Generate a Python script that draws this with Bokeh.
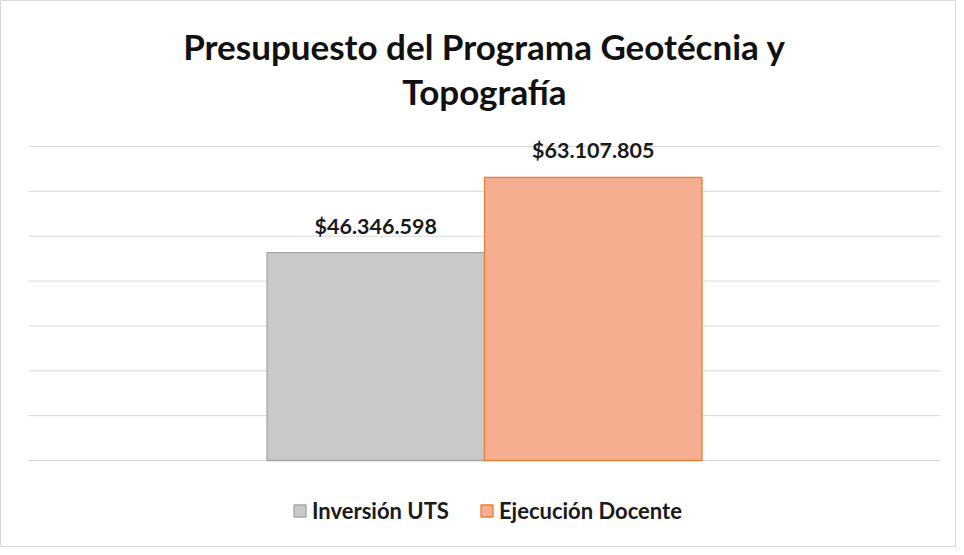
from bokeh.plotting import figure
from bokeh.models import ColumnDataSource, Range1d, Legend, LegendItem, Label
from bokeh.embed import file_html
from bokeh.resources import INLINE
from bokeh.core.properties import value

# ---------------- data ----------------
title_lines = ["Presupuesto del Programa Geotécnia y", "Topografía"]
series = ["Inversión UTS", "Ejecución Docente"]
amounts = [46346598, 63107805]
grid_values = [0, 10_000_000, 20_000_000, 30_000_000, 40_000_000,
               50_000_000, 60_000_000, 70_000_000]
offsets = [-0.5, 0.5]  # dodge positions of the two series inside the single category

fill_colors = ["#c9c9c9", "#f5ae8f"]
line_colors = ["#a6a6a6", "#ed7d31"]

# ---------------- layout geometry ----------------
W, H = 956, 547
bar_px = 217.5            # pixel width of one bar (1 data unit)
center_px = 484           # group centre, px from frame left
base_px = 460             # baseline, px from frame top
top_grid_px = 146         # top gridline, px from frame top
half_plot_px = 456        # half-width of the plot area (gridline extent)

ppu = (base_px - top_grid_px) / grid_values[-1]
y_start = -(H - base_px) / ppu
y_end = base_px / ppu
x_start = -center_px / bar_px
x_end = (W - center_px) / bar_px
gx = half_plot_px / bar_px

p = figure(width=W, height=H, output_backend="svg", toolbar_location=None,
           x_range=Range1d(x_start, x_end), y_range=Range1d(y_start, y_end),
           min_border=0, min_border_left=0, min_border_right=0,
           min_border_top=0, min_border_bottom=0)
p.axis.visible = False
p.grid.visible = False
p.outline_line_color = "#d9d9d9"
p.background_fill_color = "white"
p.border_fill_color = "white"

# gridlines
p.segment(x0=[-gx] * len(grid_values), x1=[gx] * len(grid_values),
          y0=grid_values, y1=grid_values, line_color="#d9d9d9", line_width=1)

src = ColumnDataSource(dict(
    x=offsets, top=amounts, name=series, fill=fill_colors, line=line_colors,
    label=[("$" + f"{v:,}".replace(",", ".")) for v in amounts],
))

bars = p.vbar(x="x", top="top", bottom=0, width=1.0, source=src,
              fill_color="fill", line_color="line", line_width=1.3)

p.text(x="x", y="top", text="label", source=src, text_align="center",
       text_baseline="middle", y_offset=-27, text_font=value("Lato"),
       text_font_style="bold", text_font_size="21.5px", text_color="#1a1a1a")

# title (centre of capital letters at ~45 and ~90 px from figure top)
for t, yc in zip(title_lines, [45, 90]):
    p.add_layout(Label(x=center_px, y=H - yc, x_units="screen", y_units="screen", text=t,
                       text_align="center", text_baseline="middle",
                       text_font="Lato", text_font_style="bold",
                       text_font_size="35px", text_color="#111111"))

legend = Legend(items=[LegendItem(label=series[i], renderers=[bars], index=i) for i in range(2)],
                orientation="horizontal", location=(292, 23),
                glyph_width=15, glyph_height=15, label_standoff=5, spacing=30,
                padding=0, margin=0, border_line_color=None, background_fill_alpha=0,
                label_text_font="Lato", label_text_font_style="bold",
                label_text_font_size="22px", label_text_color="#1a1a1a")
p.add_layout(legend)

open("out.html", "w").write(file_html(p, INLINE))
